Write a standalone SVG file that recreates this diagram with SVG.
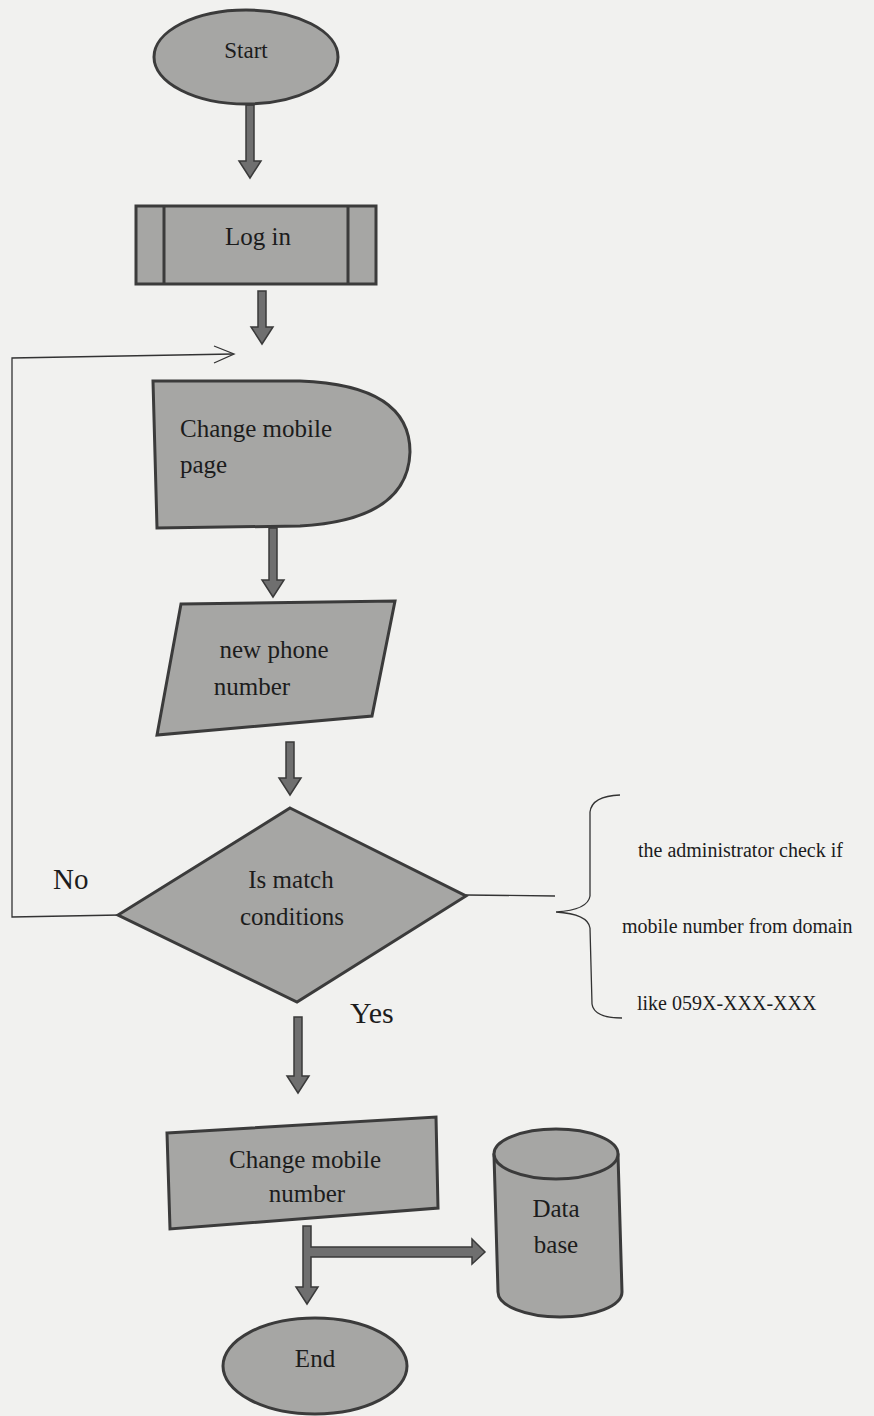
<svg xmlns="http://www.w3.org/2000/svg" width="874" height="1416" viewBox="0 0 874 1416">
  <style>
    .shape { fill: #a6a6a4; stroke: #3b3b3b; stroke-width: 3; }
    .inner { fill: none; stroke: #3b3b3b; stroke-width: 3; }
    .block { fill: #6f6f6f; stroke: #3a3a3a; stroke-width: 1.5; }
    .thin { fill: none; stroke: #333; stroke-width: 1.3; }
  </style>

  <rect width="874" height="1416" fill="#f1f1ef"/>

  <!-- connectors -->
  <g id="connectors">
    <!-- Start -> Log in -->
    <polygon class="block" points="246,105 254,105 254,161 261,161 250,178 239,161 246,161"/>
    <!-- Log in -> Change mobile page -->
    <polygon class="block" points="258,291 266,291 266,327 273,327 262,344 251,327 258,327"/>
    <!-- Change mobile page -> new phone number -->
    <polygon class="block" points="269,528 277,528 277,580 284,580 273,597 262,580 269,580"/>
    <!-- new phone number -> decision -->
    <polygon class="block" points="286,742 294,742 294,778 301,778 290,795 279,778 286,778"/>
    <!-- decision (Yes) -> Change mobile number -->
    <polygon class="block" points="294,1017 302,1017 302,1076 309,1076 298,1093 287,1076 294,1076"/>
    <!-- Change mobile number -> End, with branch to Data base -->
    <polygon class="block" points="303,1226 311,1226 311,1247 472,1247 472,1239 485,1252 472,1264 472,1257 311,1257 311,1287 318,1287 307,1304 296,1287 303,1287"/>
    <!-- No loop back to Change mobile page -->
    <polyline class="thin" points="120,915 12,917 12,358 233,354"/>
    <polyline class="thin" points="214,346 234,354 214,363"/>
    <!-- decision -> note -->
    <line class="thin" x1="466" y1="895" x2="555" y2="896"/>
    <!-- note brace -->
    <path class="thin" d="M620,795 Q592,796 590,812 L590,896 Q588,910 556,912 Q588,914 590,928 L592,1004 Q594,1018 622,1018"/>
  </g>

  <g font-family="'Liberation Serif', 'DejaVu Serif', serif" fill="#1c1c1c" font-size="25">
    <g id="start">
      <ellipse class="shape" cx="246" cy="57" rx="92" ry="47"/>
      <text x="246" y="58" text-anchor="middle" font-size="23" fill="#1c1c1c">Start</text>
    </g>

    <g id="login">
      <rect class="shape" x="136" y="206" width="240" height="78"/>
      <line class="inner" x1="164" y1="207" x2="164" y2="283"/>
      <line class="inner" x1="348" y1="207" x2="348" y2="283"/>
      <text x="258" y="245" text-anchor="middle" fill="#1c1c1c">Log in</text>
    </g>

    <g id="change-page">
      <path class="shape" d="M153,381 L300,381 Q410,385 410,452 Q408,520 300,526 L157,528 Z"/>
      <text x="180" y="437" fill="#1c1c1c">Change mobile</text>
      <text x="180" y="473" fill="#1c1c1c">page</text>
    </g>

    <g id="new-number">
      <polygon class="shape" points="181,604 395,601 372,716 157,735"/>
      <text x="274" y="658" text-anchor="middle" fill="#1c1c1c">new phone</text>
      <text x="252" y="695" text-anchor="middle" fill="#1c1c1c">number</text>
    </g>

    <g id="decision">
      <polygon class="shape" points="290,808 466,896 297,1002 118,915"/>
      <text x="291" y="888" text-anchor="middle" fill="#1c1c1c">Is match</text>
      <text x="292" y="925" text-anchor="middle" fill="#1c1c1c">conditions</text>
      <text x="53" y="889" font-size="29" fill="#1c1c1c">No</text>
      <text x="350" y="1023" font-size="30" fill="#1c1c1c">Yes</text>
    </g>

    <g id="note" font-size="20">
      <text x="638" y="857" fill="#1c1c1c">the administrator check if</text>
      <text x="622" y="933" fill="#1c1c1c">mobile number  from domain</text>
      <text x="637" y="1010" fill="#1c1c1c">like 059X-XXX-XXX</text>
    </g>

    <g id="change-number">
      <polygon class="shape" points="167,1133 436,1117 438,1208 170,1229"/>
      <text x="305" y="1168" text-anchor="middle" fill="#1c1c1c">Change mobile</text>
      <text x="307" y="1202" text-anchor="middle" fill="#1c1c1c">number</text>
    </g>

    <g id="database">
      <path class="shape" d="M494,1155 L498,1292 A62,25 0 0 0 622,1292 L618,1155 Z"/>
      <ellipse class="shape" cx="556" cy="1154" rx="62" ry="25"/>
      <text x="556" y="1217" text-anchor="middle" fill="#1c1c1c">Data</text>
      <text x="556" y="1253" text-anchor="middle" fill="#1c1c1c">base</text>
    </g>

    <g id="end">
      <ellipse class="shape" cx="315" cy="1366" rx="92" ry="48"/>
      <text x="315" y="1367" text-anchor="middle" fill="#1c1c1c">End</text>
    </g>
  </g>
</svg>
